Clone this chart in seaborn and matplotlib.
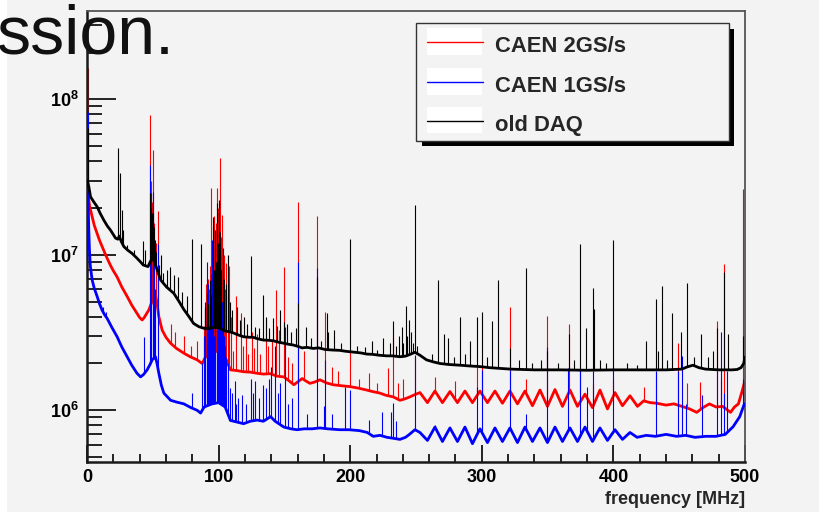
import numpy as np
import pandas as pd
import matplotlib
matplotlib.use("Agg")
import matplotlib.pyplot as plt
from matplotlib.patches import Rectangle
from matplotlib.lines import Line2D
from matplotlib.ticker import LogLocator, NullFormatter, MultipleLocator
import seaborn as sns

# Noise spectra: smooth continuum (frequency MHz, level in units of 1e6)
# plus narrow lines (frequency MHz, peak level in units of 1e6).
SCALE = 1e6

red_continuum = [
    (0.3, 26.0), (0.6, 24.9), (2.0, 20.5), (3.9, 17.6), (5.5, 15.5), (7.7, 13.7), (9.5, 12.4),
    (11.5, 11.3), (13.5, 10.3), (15.3, 9.5), (18.0, 8.5), (20.0, 7.9), (22.9, 7.2), (26.5, 6.2),
    (30.5, 5.4), (34.0, 4.75), (38.0, 4.2), (40.0, 3.95), (41.9, 3.81), (43.5, 3.95), (45.0, 4.15),
    (47.0, 4.42), (49.0, 4.9), (50.8, 5.4), (52.0, 5.6), (53.0, 5.0), (54.6, 4.0), (57.1, 3.28),
    (60.0, 2.95), (63.5, 2.70), (68.0, 2.50), (73.6, 2.33), (78.0, 2.22), (83.7, 2.11), (87.5, 2.0),
    (90.0, 2.2), (94.0, 2.35), (98.0, 2.4), (102.0, 2.35), (106.0, 2.1), (109.0, 1.82), (114.0, 1.80),
    (119.0, 1.77), (124.0, 1.76), (129.3, 1.73), (134.0, 1.71), (139.5, 1.72), (144.0, 1.66),
    (149.6, 1.64), (153.0, 1.56), (157.2, 1.46), (160.0, 1.52), (163.5, 1.6), (166.0, 1.55),
    (169.4, 1.49), (173.0, 1.52), (177.0, 1.57), (182.0, 1.5), (187.0, 1.46), (193.0, 1.44),
    (199.8, 1.42), (206.0, 1.39), (212.5, 1.35), (217.0, 1.32), (222.6, 1.29), (227.0, 1.25),
    (232.7, 1.22), (237.8, 1.16), (241.0, 1.18), (245.4, 1.22), (249.0, 1.26), (253.0, 1.30),
    (258.7, 1.12), (264.4, 1.33), (270.1, 1.12), (275.8, 1.32), (281.5, 1.12), (287.2, 1.33),
    (292.9, 1.12), (298.6, 1.33), (304.3, 1.12), (310.0, 1.33), (315.7, 1.11), (321.4, 1.33),
    (327.1, 1.10), (332.8, 1.33), (338.5, 1.07), (344.2, 1.35), (349.9, 1.06), (355.6, 1.36),
    (361.3, 1.06), (367.0, 1.35), (372.7, 1.06), (378.4, 1.27), (384.1, 1.04), (389.8, 1.35),
    (395.5, 1.02), (401.2, 1.30), (406.9, 1.07), (412.6, 1.24), (418.3, 1.06), (423.0, 1.15),
    (428.0, 1.12), (433.0, 1.11), (440.0, 1.08), (446.0, 1.10), (452.0, 1.06), (458.0, 1.02),
    (463.3, 0.97), (468.0, 1.04), (473.0, 1.10), (478.0, 1.05), (483.0, 1.06), (489.0, 0.97),
    (492.0, 1.05), (495.0, 1.10), (497.5, 1.30), (499.5, 1.50),
]

blue_continuum = [
    (0.3, 32.0), (0.8, 24.0), (1.3, 15.0), (1.8, 11.0), (2.5, 8.5), (3.9, 6.9), (5.5, 6.1),
    (7.7, 5.4), (9.5, 4.85), (11.5, 4.4), (13.5, 4.1), (15.3, 3.9), (19.0, 3.4), (22.9, 2.97),
    (26.5, 2.55), (30.5, 2.21), (34.0, 1.95), (38.0, 1.73), (40.7, 1.64), (43.0, 1.70), (45.7, 1.82),
    (48.0, 1.98), (49.5, 2.11), (52.0, 2.21), (53.2, 2.0), (54.6, 1.73), (56.5, 1.45), (58.4, 1.29),
    (63.5, 1.16), (68.0, 1.13), (73.6, 1.10), (79.0, 1.04), (83.7, 1.0), (86.3, 0.96), (89.0, 1.05),
    (95.0, 1.10), (100.0, 1.12), (105.0, 1.05), (109.0, 0.86), (114.0, 0.84), (119.0, 0.82),
    (124.0, 0.85), (129.3, 0.865), (134.0, 0.85), (139.5, 0.91), (143.0, 0.85), (149.6, 0.78),
    (155.0, 0.76), (159.7, 0.75), (165.0, 0.76), (171.0, 0.76), (177.0, 0.77), (183.0, 0.76),
    (192.0, 0.75), (199.0, 0.75), (207.0, 0.74), (213.0, 0.72), (217.5, 0.68), (222.6, 0.69),
    (228.0, 0.67), (233.0, 0.66), (237.8, 0.65), (242.0, 0.67), (245.0, 0.70), (249.2, 0.75),
    (253.0, 0.72), (258.7, 0.64), (264.4, 0.78), (270.1, 0.63), (275.8, 0.77), (281.5, 0.63),
    (287.2, 0.78), (292.9, 0.61), (298.6, 0.76), (304.3, 0.62), (310.0, 0.77), (315.7, 0.63),
    (321.4, 0.77), (327.1, 0.62), (332.8, 0.78), (338.5, 0.63), (344.2, 0.77), (349.9, 0.62),
    (355.6, 0.78), (361.3, 0.63), (367.0, 0.77), (372.7, 0.63), (378.4, 0.78), (384.1, 0.63),
    (389.8, 0.77), (395.5, 0.64), (401.2, 0.75), (406.9, 0.65), (412.6, 0.72), (418.0, 0.67),
    (425.0, 0.69), (432.0, 0.68), (440.0, 0.70), (448.0, 0.68), (455.0, 0.69), (462.0, 0.67),
    (470.0, 0.68), (478.0, 0.68), (485.0, 0.70), (491.0, 0.785), (496.0, 0.91), (499.5, 1.10),
]

black_continuum = [
    (0.3, 30.0), (1.4, 27.4), (2.7, 23.6), (5.0, 22.0), (7.7, 20.4), (10.0, 18.5), (12.8, 16.7),
    (15.5, 15.3), (17.9, 14.4), (21.7, 12.8), (23.5, 12.6), (24.5, 13.2), (26.0, 12.2), (28.0, 11.3),
    (31.0, 10.7), (34.3, 10.2), (37.5, 9.6), (40.7, 9.0), (42.7, 8.6), (44.5, 8.5), (46.4, 8.4),
    (48.0, 9.0), (50.0, 9.6), (52.5, 8.4), (55.9, 6.9), (60.5, 6.2), (66.0, 5.65), (70.0, 5.0),
    (73.6, 4.45), (77.5, 4.0), (81.0, 3.62), (85.0, 3.45), (88.8, 3.37), (92.0, 3.35), (96.0, 3.4),
    (100.0, 3.4), (104.0, 3.25), (108.0, 3.2), (111.0, 3.15), (115.0, 3.05), (119.0, 2.97),
    (123.0, 2.95), (126.0, 2.95), (130.0, 2.88), (134.0, 2.83), (138.0, 2.82), (141.5, 2.80),
    (145.5, 2.74), (149.6, 2.70), (153.0, 2.66), (156.7, 2.63), (160.0, 2.58), (163.5, 2.52),
    (167.0, 2.54), (171.9, 2.50), (176.0, 2.52), (181.0, 2.46), (187.0, 2.44), (192.0, 2.43),
    (196.0, 2.40), (199.8, 2.38), (204.0, 2.36), (208.0, 2.34), (212.5, 2.30), (217.0, 2.29),
    (222.0, 2.26), (227.7, 2.24), (232.0, 2.24), (237.8, 2.21), (242.0, 2.23), (245.0, 2.28),
    (249.2, 2.36), (253.0, 2.26), (258.0, 2.11), (263.0, 2.05), (268.2, 2.00), (275.0, 1.97),
    (283.4, 1.95), (290.0, 1.93), (298.6, 1.91), (306.0, 1.88), (313.8, 1.86), (322.0, 1.84),
    (331.5, 1.83), (340.0, 1.82), (360.0, 1.82), (380.0, 1.81), (400.0, 1.82), (420.0, 1.82),
    (440.0, 1.82), (452.0, 1.84), (456.0, 1.90), (460.5, 1.95), (465.0, 1.88), (470.0, 1.84),
    (480.0, 1.82), (490.0, 1.82), (494.0, 1.83), (497.0, 1.88), (499.0, 2.00), (500.0, 2.20),
]

red_lines = [
    (0.7, 159.0), (47.6, 79.0), (48.5, 30.0), (49.2, 22.0), (50.3, 47.0), (51.2, 16.0), (52.3, 12.0),
    (53.8, 19.2), (64.0, 3.6), (67.2, 3.2), (73.6, 3.0), (79.0, 2.6), (83.7, 2.8),
    (89.0, 3.5), (89.6, 4.5), (90.5, 6.5), (91.2, 5.0), (91.8, 7.0), (92.5, 6.0), (93.3, 8.5),
    (94.0, 5.5), (94.6, 27.0), (95.3, 9.0), (95.9, 15.0), (96.4, 17.8), (97.2, 10.0), (97.9, 16.0),
    (98.4, 9.0), (98.9, 27.0), (99.7, 20.0), (100.2, 12.0), (100.7, 41.7), (101.5, 13.0),
    (102.3, 18.0), (103.2, 8.0), (104.0, 9.9), (105.0, 6.0), (106.0, 8.9), (107.0, 5.5), (108.0, 8.5),
    (109.5, 4.0), (111.0, 2.4), (112.9, 5.4), (116.7, 4.2), (118.5, 2.6), (120.5, 3.0), (122.5, 2.3),
    (125.0, 3.2), (127.0, 2.5), (129.0, 3.1), (131.5, 2.3), (135.7, 3.8), (137.5, 2.6), (140.5, 2.8),
    (143.3, 5.95), (146.0, 3.3), (149.6, 8.4), (152.5, 2.2), (156.0, 2.0), (160.5, 21.9), (165.0, 2.4),
    (174.4, 17.8), (180.8, 4.3), (186.0, 1.9), (191.0, 1.8), (199.8, 2.36), (207.0, 1.6),
    (214.2, 1.74), (220.0, 1.5), (228.9, 1.86), (232.2, 2.96), (236.5, 1.5), (240.0, 1.6),
    (249.4, 2.2), (264.4, 1.64), (279.6, 1.55), (296.5, 1.9), (300.0, 1.9), (321.4, 4.6),
    (333.3, 1.6), (349.8, 4.06), (366.3, 3.6), (374.6, 1.8), (384.2, 1.5), (399.5, 1.6),
    (423.0, 1.42), (432.2, 1.77), (449.4, 2.7), (456.2, 1.5), (465.8, 1.53), (478.5, 3.75),
    (481.8, 1.6), (484.3, 8.7), (498.8, 26.4),
]

blue_lines = [
    (0.7, 83.0), (12.5, 4.6), (14.8, 4.3), (43.2, 2.97), (47.6, 38.0), (48.4, 15.0), (49.0, 25.0),
    (50.3, 25.4), (51.0, 10.0), (52.0, 6.0), (53.8, 11.8), (79.9, 1.29),
    (87.6, 2.0), (88.6, 3.0), (89.5, 3.4), (90.0, 5.0), (90.9, 9.0), (91.3, 4.0), (92.2, 6.5),
    (92.7, 3.5), (93.6, 4.5), (94.5, 7.5), (94.9, 12.4), (95.4, 3.5), (96.3, 3.0),
    (97.2, 3.5), (97.6, 6.0), (98.5, 9.0), (99.0, 4.0), (99.7, 10.6),
    (100.2, 4.2), (100.6, 8.5), (101.0, 7.2), (101.9, 4.5), (102.8, 5.0),
    (103.3, 3.4), (104.2, 3.0), (105.1, 2.6), (106.0, 2.2),
    (107.0, 2.0), (108.3, 1.4),
    (110.5, 1.3), (112.4, 1.54), (113.5, 1.1), (115.0, 1.2), (117.5, 1.25), (121.0, 1.1),
    (124.3, 1.6), (126.0, 1.3), (128.0, 1.54), (131.0, 1.2), (134.0, 1.45), (136.0, 1.4),
    (138.0, 1.6), (139.5, 1.9), (142.8, 2.6), (145.0, 1.3), (147.0, 1.5), (150.4, 3.45),
    (153.0, 1.1), (156.0, 1.2), (160.5, 9.0), (167.0, 0.95), (174.4, 8.2), (180.0, 1.06),
    (180.8, 2.11), (186.0, 0.95), (196.0, 1.42), (199.8, 1.35), (214.2, 0.86), (224.0, 0.98),
    (231.0, 0.98), (232.2, 1.11), (235.0, 0.85), (249.5, 2.27), (264.4, 0.8), (296.5, 1.42),
    (299.9, 1.82), (321.4, 1.82), (333.3, 0.95), (349.5, 2.56), (365.8, 1.86), (374.6, 1.82),
    (379.7, 1.42), (384.5, 1.8), (399.5, 1.9), (432.6, 1.8), (449.4, 1.8), (452.0, 2.22),
    (455.0, 1.1), (467.0, 1.26), (479.0, 1.8), (481.8, 3.2), (484.3, 1.3), (486.7, 1.8),
    (498.8, 1.6),
]

black_lines = [
    (0.7, 65.0), (23.7, 48.4), (25.4, 33.5), (26.6, 19.4), (27.4, 14.5), (30.5, 11.5), (36.0, 10.8),
    (42.7, 12.2), (43.9, 10.7), (47.6, 24.8), (48.3, 20.0), (49.0, 17.0), (49.7, 18.5), (50.4, 18.5),
    (51.1, 15.0), (51.8, 12.5), (52.6, 10.5), (54.8, 8.6), (56.0, 10.0), (58.0, 7.6), (60.8, 8.0),
    (63.3, 8.4), (66.3, 7.4), (68.8, 7.2), (72.1, 5.8), (75.9, 5.4), (80.0, 12.6), (86.8, 11.7),
    (89.5, 4.6), (91.0, 5.7), (92.2, 4.8), (93.3, 6.9), (94.5, 5.5), (95.6, 17.6), (96.3, 8.0),
    (97.0, 14.5), (97.8, 9.0), (98.6, 21.6), (99.3, 12.0), (100.1, 22.5), (100.7, 10.0),
    (101.2, 14.1), (102.0, 8.0), (103.0, 11.0), (104.0, 7.0), (105.5, 6.5), (107.3, 10.0),
    (109.0, 5.0), (110.3, 4.4), (114.1, 4.6), (116.5, 3.8), (119.2, 4.0), (121.5, 3.6),
    (124.7, 9.8), (128.0, 3.45), (131.0, 3.4), (133.9, 5.5), (135.7, 4.0), (138.5, 3.4),
    (141.5, 3.9), (144.0, 3.5), (147.0, 4.4), (149.5, 3.7), (152.0, 3.6), (155.0, 3.2),
    (158.5, 3.4), (160.5, 4.9), (166.3, 3.45), (170.0, 2.9), (174.4, 7.2), (178.0, 2.8),
    (182.0, 4.2), (183.3, 3.2), (187.6, 3.3), (193.0, 2.7), (199.8, 12.6), (205.0, 2.6),
    (211.0, 2.55), (216.7, 2.8), (220.0, 2.45), (224.6, 2.9), (230.0, 2.7), (232.2, 3.75),
    (235.0, 2.6), (237.0, 3.0), (239.0, 3.45), (240.5, 2.7), (242.3, 4.7), (243.5, 3.0),
    (244.5, 3.8), (246.5, 3.2), (247.5, 2.7), (249.3, 20.9), (251.0, 2.6), (262.0, 2.3),
    (266.4, 6.9), (271.5, 3.1), (274.0, 2.9), (279.0, 2.2), (283.7, 4.0), (287.0, 2.3),
    (291.0, 2.8), (296.5, 4.0), (299.9, 4.3), (304.0, 2.2), (307.8, 3.75), (312.0, 6.9),
    (321.4, 2.5), (328.0, 2.1), (333.3, 8.2), (338.0, 2.0), (345.0, 2.1), (349.8, 2.4),
    (358.0, 2.0), (366.3, 3.1), (370.0, 2.1), (374.6, 11.7), (378.9, 3.4), (384.2, 6.1),
    (385.2, 4.5), (390.0, 2.1), (394.0, 2.0), (399.5, 12.4), (410.0, 2.0), (418.0, 1.95),
    (424.5, 2.8), (432.2, 5.2), (434.0, 2.4), (437.2, 6.3), (441.0, 2.1), (444.3, 4.2),
    (451.2, 3.2), (456.2, 6.6), (461.0, 2.2), (466.6, 3.1), (472.0, 2.2), (476.0, 2.4),
    (478.5, 3.4), (484.3, 7.7), (487.4, 3.1), (498.8, 3.0),
]

series_names = ["CAEN 2GS/s", "CAEN 1GS/s", "old DAQ"]
series_colors = ["#ff0000", "#0000ff", "#000000"]
x_ticks = [0, 100, 200, 300, 400, 500]
y_ticks = [1e6, 1e7, 1e8]
y_tick_labels = [r"$\mathbf{10^{6}}$", r"$\mathbf{10^{7}}$", r"$\mathbf{10^{8}}$"]

BG = "#f3f3f3"
W, H = 819, 512

sns.set_theme(style="ticks")
plt.rcParams["font.family"] = ["Liberation Sans", "DejaVu Sans"]
plt.rcParams["mathtext.fontset"] = "custom"
plt.rcParams["mathtext.rm"] = "Liberation Sans"
plt.rcParams["mathtext.bf"] = "Liberation Sans:bold"

fig = plt.figure(figsize=(W / 100, H / 100), dpi=100, facecolor=BG)


def fx(px):
    return px / W


def fy(py):
    return 1 - py / H


def frect(x0, y0, x1, y1, **kw):
    fig.add_artist(Rectangle((fx(x0), fy(y1)), fx(x1) - fx(x0), fy(y0) - fy(y1),
                             transform=fig.transFigure, **kw))


frect(0, 0, 7, H, facecolor="white", edgecolor="none", zorder=-10)

ax = fig.add_axes([fx(87), fy(462), fx(745) - fx(87), fy(11) - fy(462)])
ax.set_facecolor(BG)

spectra = [
    (red_continuum, red_lines),
    (blue_continuum, blue_lines),
    (black_continuum, black_lines),
]

for z, (name, color, (cont, lines)) in enumerate(zip(series_names, series_colors, spectra)):
    df = pd.DataFrame(cont, columns=["freq", "level"])
    df["level"] = df["level"] * SCALE
    sns.lineplot(data=df, x="freq", y="level", color=color, lw=2.0,
                 estimator=None, ax=ax, zorder=2 + z)
    lf = np.array([p[0] for p in lines])
    lt = np.array([p[1] for p in lines]) * SCALE
    base = 10 ** np.interp(lf, df["freq"], np.log10(df["level"]))
    ax.vlines(lf, base, np.maximum(lt, base), color=color, lw=0.8, zorder=2 + z)

ax.set_yscale("log")
ax.set_xlim(0, 500)
ax.set_ylim(4.65e5, 3.7e8)

ax.set_xticks(x_ticks)
ax.set_xticklabels([str(t) for t in x_ticks], fontweight="bold")
ax.xaxis.set_minor_locator(MultipleLocator(20))
ax.set_yticks(y_ticks)
ax.set_yticklabels(y_tick_labels)
ax.yaxis.set_minor_locator(LogLocator(base=10, subs=np.arange(2, 10)))
ax.yaxis.set_minor_formatter(NullFormatter())

ax.tick_params(axis="both", which="both", direction="in", colors="black",
               top=False, right=False, labelsize=13)
ax.tick_params(axis="y", which="major", length=21, width=1.2, pad=5.8)
ax.tick_params(axis="y", which="minor", length=10.5, width=1.2)
ax.tick_params(axis="x", which="major", length=12, width=1.2, pad=5)
ax.tick_params(axis="x", which="minor", length=6, width=1.2)

for s in ["left", "bottom"]:
    ax.spines[s].set_color("#1a1a1a")
    ax.spines[s].set_linewidth(1.8)
for s in ["top", "right"]:
    ax.spines[s].set_color("#555555")
    ax.spines[s].set_linewidth(1.3)

ax.set_ylabel("")
ax.set_xlabel("frequency [MHz]", loc="right", fontweight="bold", fontsize=13, labelpad=3.5)

# legend box with drop shadow
frect(422, 29, 734, 146, facecolor="black", edgecolor="none", zorder=5)
frect(416, 23, 729, 141, facecolor=BG, edgecolor="#333333", lw=1.0, zorder=6)
rows = [(28, 55, 41.7, 51.5), (68, 95, 81.7, 91.5), (107, 133, 121.0, 130.5)]
for name, color, (top, bot, ly, bl) in zip(series_names, series_colors, rows):
    frect(427, top, 482, bot, facecolor="white", edgecolor="none", zorder=7)
    fig.add_artist(Line2D([fx(427), fx(483)], [fy(ly), fy(ly)], transform=fig.transFigure,
                          color=color, lw=1.0, zorder=8))
    fig.text(fx(495), fy(bl), name, fontsize=15.8, fontweight="bold",
             ha="left", va="baseline", zorder=8)

fig.text(fx(-4), fy(53), "ssion.", fontsize=49, ha="left", va="baseline",
         color="#111111", zorder=9)

fig.savefig("out.png", dpi=100, facecolor=BG)
